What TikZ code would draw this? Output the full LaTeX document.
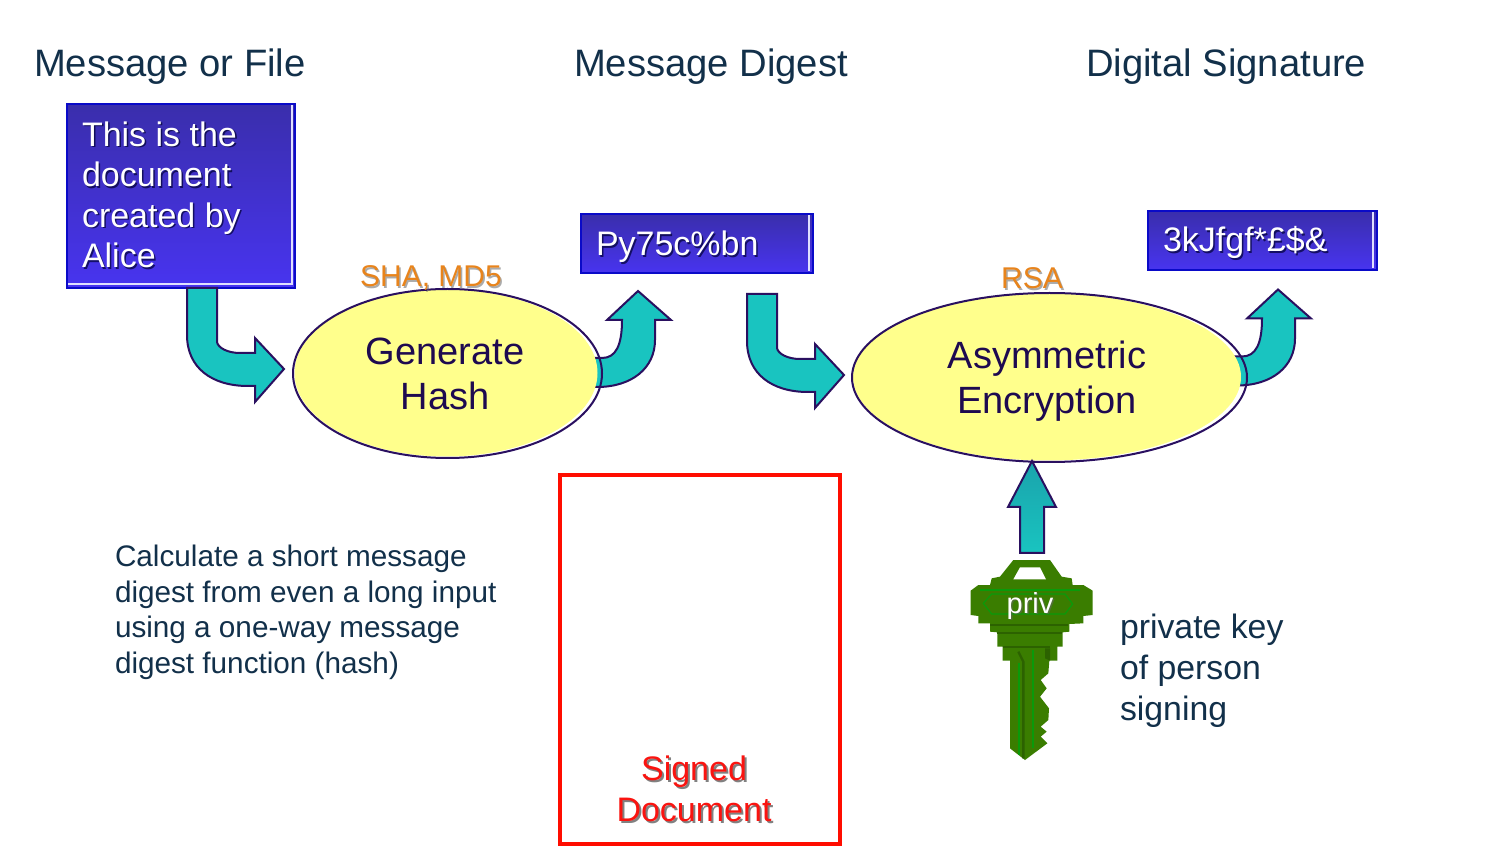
\documentclass[tikz,border=0pt]{standalone}
\usepackage{fontspec}
\setmainfont{Liberation Sans}
\usetikzlibrary{shapes.geometric}
\definecolor{head}{HTML}{12304A}
\definecolor{inkp}{HTML}{1E0A50}
\definecolor{teal}{HTML}{19C4C0}
\definecolor{tealdk}{HTML}{1AA3AC}
\definecolor{edgep}{HTML}{2A1060}
\definecolor{keyg}{HTML}{3A7D00}
\definecolor{keyl}{HTML}{0A9A0A}
\definecolor{keyd}{HTML}{2C6200}
\definecolor{orng}{HTML}{E8841C}
\definecolor{redt}{HTML}{FA1410}
\definecolor{yell}{HTML}{FFFF8C}
\definecolor{boxtop}{HTML}{3A2EAC}
\definecolor{boxbot}{HTML}{4834F0}
\definecolor{boxedge}{HTML}{0A0AC8}
\tikzset{
  txt/.style={inner sep=0pt,outer sep=0pt,align=left},
  htxt/.style={txt,anchor=base west,text=head,font=\fontsize{19.1}{22}\selectfont},
  ellbase/.style={ellipse,fill=white,inner sep=0pt},
  ellfill/.style={ellipse,fill=yell,inner sep=0pt},
  elledge/.style={ellipse,draw=edgep,line width=1pt,inner sep=0pt},
  bluebox/.style={draw=boxedge,line width=1pt,top color=boxtop,bottom color=boxbot,inner sep=0pt,anchor=north west},
  block/.style={draw=edgep,line width=1pt,fill=teal,line join=miter},
  inline/.style={white!88!blue,line width=1.2pt},
  sh/.style={text=black!80!blue,opacity=.7},
  shl/.style={text=black!60,opacity=.55},
}
\newcommand{\curveddown}[2]{%
  \begin{scope}[shift={(#1,#2)}]
  \path[block] (187,288) -- (217,288) -- (217,342) .. controls (218,348) and (228,353) .. (240,353)
    -- (255,353) -- (255,338) -- (284,369) -- (255,402) -- (255,386) -- (248,386)
    .. controls (212,386) and (187,368) .. (187,335) -- cycle;
  \end{scope}}
\newcommand{\curvedup}[2]{%
  \begin{scope}[shift={(#1,#2)}]
  \path[block] (585,358) -- (602,358) .. controls (616,358) and (622,345) .. (622,320)
    -- (607,320) -- (638,291) -- (671,320) -- (655,320) -- (655,340)
    .. controls (655,368) and (632,387) .. (597,387) -- (585,387) -- cycle;
  \end{scope}}
\begin{document}
\begin{tikzpicture}[x=0.5pt,y=-0.5pt]
\useasboundingbox[fill=white] (0,0) rectangle (1500,855);
% headings
\node[htxt] (h1) at (34,77) {Message or File};
\node[htxt] (h2) at (574,77) {Message Digest};
\node[htxt] (h3) at (1086,77) {Digital Signature};
% boxes
\node[bluebox,minimum width=114pt,minimum height=92pt] (doc) at (66,103.5) {};
\draw[inline] (292,105) -- (292,284) -- (68,284);
\node[bluebox,minimum width=116pt,minimum height=29.5pt] (dig) at (580,213.5) {};
\draw[inline] (809,215) -- (809,271);
\node[bluebox,minimum width=114.5pt,minimum height=29.5pt] (sig) at (1147,210.5) {};
\draw[inline] (1373,212) -- (1373,268);
% box text
\begin{scope}[every node/.style={txt,font=\fontsize{17}{20.25}\selectfont}]
\node[sh,anchor=north west] at (83.5,123) {This is the\\document\\created by\\Alice};
\node[text=white,anchor=north west] (doct) at (82,121.5) {This is the\\document\\created by\\Alice};
\node[sh,anchor=base west] at (597.5,257.5) {Py75c\%bn};
\node[text=white,anchor=base west] (digt) at (596,256) {Py75c\%bn};
\node[sh,anchor=base west] at (1164.5,253.5) {3kJfgf*£\$\&};
\node[text=white,anchor=base west] (sigt) at (1163,252) {3kJfgf*£\$\&};
\end{scope}
% ellipse bases, arrows, ellipse faces
\node[ellbase,minimum width=154.5pt,minimum height=84.5pt] (hashb) at (447.5,373.5) {};
\node[ellbase,minimum width=197.5pt,minimum height=84.5pt] (encb) at (1049.5,377.5) {};
\curveddown{0}{0}
\curveddown{560}{6}
\curvedup{0}{0}
\curvedup{640}{-1.5}
\node[ellfill,minimum width=151.5pt,minimum height=83.5pt] (hashf) at (446,373) {};
\node[ellfill,minimum width=194pt,minimum height=83.5pt] (encf) at (1047,377) {};
\node[elledge,minimum width=154.5pt,minimum height=84.5pt] (hash) at (447.5,373.5) {};
\node[elledge,minimum width=197.5pt,minimum height=84.5pt] (enc) at (1049.5,377.5) {};
\node[txt,align=center,anchor=north,text=inkp,font=\fontsize{19}{22.5}\selectfont] (hasht) at (445,338) {Generate\\Hash};
\node[txt,align=center,anchor=north,text=inkp,font=\fontsize{19}{22.5}\selectfont] (enct) at (1047,341) {Asymmetric\\Encryption};
% algorithm labels
\node[shl,txt,anchor=base,font=\fontsize{15}{18}\selectfont] at (432.5,288.5) {SHA, MD5};
\node[txt,anchor=base,text=orng,font=\fontsize{15}{18}\selectfont] (sha) at (431,287) {SHA, MD5};
\node[shl,txt,anchor=base,font=\fontsize{15}{18}\selectfont] at (1033.5,290.5) {RSA};
\node[txt,anchor=base,text=orng,font=\fontsize{15}{18}\selectfont] (rsa) at (1032,289) {RSA};
% key arrow
\path[draw=edgep,line width=1pt,top color=tealdk,bottom color=teal] (1032,461) -- (1056,507) -- (1044,507) -- (1044,553) -- (1020,553) -- (1020,507) -- (1008,507) -- cycle;
% key
\begin{scope}[shift={(950,450)},x=0.16667pt,y=-0.16667pt]
\fill[keyg] (190,330) -- (300,330) -- (335,380) -- (365,385) -- (368,405) -- (400,405) -- (428,422) -- (428,495) -- (400,498) -- (400,520) -- (358,522) -- (358,545) -- (338,547) -- (338,590) -- (322,590) -- (322,632) -- (298,632) -- (295,670) -- (272,690) -- (290,715) -- (270,740) -- (297,775) -- (295,810) -- (272,830) -- (290,845) -- (272,860) -- (292,880) -- (225,930) -- (180,895) -- (180,632) -- (158,632) -- (158,590) -- (142,590) -- (142,547) -- (120,545) -- (120,520) -- (85,520) -- (85,498) -- (62,495) -- (62,422) -- (85,405) -- (120,405) -- (125,385) -- (150,380) -- cycle;
\fill[white] (210,352) -- (270,352) -- (288,388) -- (190,388) -- cycle;
\draw[keyl,line width=0.6pt] (125,432) -- (100,460) -- (125,492) -- (345,492) -- (368,462) -- (345,432) -- cycle;
\draw[keyl,line width=0.6pt] (90,420) -- (390,420);
\draw[keyd,line width=1pt] (120,526) -- (355,526) (140,548) -- (335,548) (158,592) -- (300,592);
\draw[keyd,line width=1.2pt] (205,605) -- (220,635) -- (220,925);
\draw[keyl,line width=1pt] (208,640) -- (208,915) (250,600) -- (250,895);
\fill[keyd] (285,595) -- (300,595) -- (300,632) -- (285,625) -- cycle;
\end{scope}
\node[shl,txt,anchor=base,font=\fontsize{14.5}{17}\selectfont] at (1031.5,614.5) {priv};
\node[txt,anchor=base,text=white,font=\fontsize{14.5}{17}\selectfont] (priv) at (1030,613) {priv};
% descriptions
\node[txt,anchor=north west,text=head,font=\fontsize{14.85}{17.85}\selectfont] (calc) at (115,545) {Calculate a short message\\digest from even a long input\\using a one-way message\\digest function (hash)};
\node[txt,anchor=north west,text=head,font=\fontsize{16.9}{20.5}\selectfont] (pk) at (1120,614) {private key\\of person\\signing};
% signed document
\node[draw=red!90!orange,line width=2pt,minimum width=140pt,minimum height=184.5pt,inner sep=0pt] (sd) at (700,659.5) {};
\node[txt,align=center,anchor=north,text=black!70,opacity=.7,font=\fontsize{17}{20.25}\selectfont] at (696,758) {Signed\\Document};
\node[txt,align=center,anchor=north,text=redt,font=\fontsize{17}{20.25}\selectfont] (sdt) at (694,756) {Signed\\Document};
\end{tikzpicture}
\end{document}
